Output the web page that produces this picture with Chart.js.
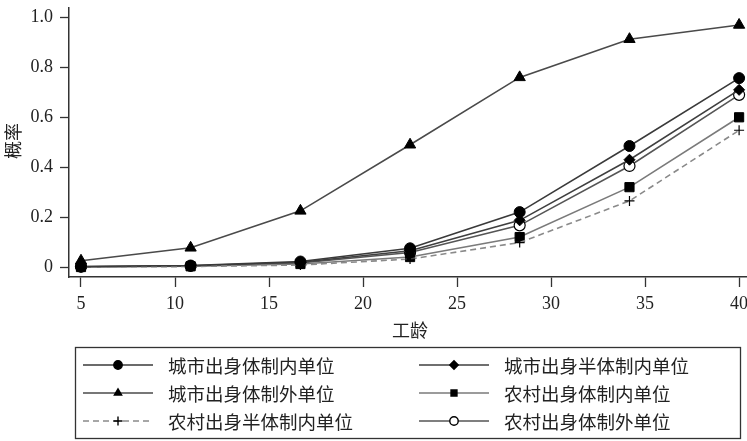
<!DOCTYPE html>
<html>
<head>
<meta charset="utf-8">
<script src="https://cdn.jsdelivr.net/npm/chart.js@4/dist/chart.umd.min.js"></script>
<style>
  html, body { margin: 0; padding: 0; background: #fff; }
  #wrap { width: 747px; height: 441px; }
</style>
</head>
<body>
<div id="wrap"><canvas id="c" width="747" height="441"></canvas></div>
<script>
// 工龄 at which the probabilities were plotted
const workYears = [5, 10.83, 16.67, 22.5, 28.33, 34.17, 40];

const urbanInside = [0.002, 0.006, 0.022, 0.075, 0.22, 0.485, 0.757];
const urbanOutside = [0.025, 0.077, 0.225, 0.49, 0.76, 0.913, 0.97];
const ruralHalf = [0, 0.002, 0.008, 0.032, 0.098, 0.265, 0.548];
const urbanHalf = [0.001, 0.005, 0.019, 0.065, 0.187, 0.43, 0.71];
const ruralInside = [0, 0.003, 0.012, 0.04, 0.12, 0.32, 0.60];
const ruralOutside = [0.001, 0.004, 0.016, 0.058, 0.167, 0.405, 0.69];

const xTicks = [5, 10, 15, 20, 25, 30, 35, 40];
const yTicks = [0, 0.2, 0.4, 0.6, 0.8, 1.0];

const serif = "'Liberation Serif', 'DejaVu Serif', serif";
const cjk = "'Noto Sans CJK SC', sans-serif";

function series(label, values, style, lineColor, opts) {
	return Object.assign({
		label: label,
		data: values.map((v, i) => ({ x: workYears[i], y: v })),
		borderColor: lineColor,
		borderWidth: 1.6,
		pointStyle: style,
		pointRadius: 5.5,
		pointBackgroundColor: '#000',
		pointBorderColor: '#000',
		pointBorderWidth: 1,
		tension: 0,
		clip: false
	}, opts || {});
}

const datasets = [
	series('城市出身体制内单位', urbanInside, 'circle', '#3a3a3a'),
	series('城市出身体制外单位', urbanOutside, 'triangle', '#4a4a4a', { pointRadius: 6.5 }),
	series('农村出身半体制内单位', ruralHalf, 'cross', '#8a8a8a', { borderDash: [6, 4], pointBorderWidth: 1.2, pointRadius: 5 }),
	series('城市出身半体制内单位', urbanHalf, 'rectRot', '#3f3f3f', { pointRadius: 5.5 }),
	series('农村出身体制内单位', ruralInside, 'rect', '#7a7a7a', { pointRadius: 6.5 }),
	series('农村出身体制外单位', ruralOutside, 'circle', '#555555', { pointBackgroundColor: '#fff', pointBorderWidth: 1.2 })
];

// legend slots: [dataset index, x of line start, row]
const legendSlots = [
	[0, 83, 0], [1, 83, 1], [2, 83, 2],
	[3, 419, 0], [4, 419, 1], [5, 419, 2]
];

// the x axis runs right up to the canvas edge, as in the original
const stretchX = {
	id: 'stretchX',
	afterLayout(chart) {
		const x = chart.scales.x;
		const area = chart.chartArea;
		x.right = chart.width;
		x.width = x.right - x.left;
		area.right = chart.width;
		area.width = area.right - area.left;
		x.configure();
	}
};

const extras = {
	id: 'extras',
	afterDraw(chart) {
		const ctx = chart.ctx;
		ctx.save();
		// axis titles
		ctx.fillStyle = '#222';
		ctx.font = '18px ' + cjk;
		ctx.textAlign = 'center';
		ctx.textBaseline = 'middle';
		ctx.fillText('工龄', 410, 330);
		ctx.save();
		ctx.translate(13, 141);
		ctx.rotate(-Math.PI / 2);
		ctx.fillText('概率', 0, 0);
		ctx.restore();

		// legend box
		ctx.strokeStyle = '#333';
		ctx.lineWidth = 1.3;
		ctx.strokeRect(75.5, 347.5, 665, 91);
		const rows = [365, 393, 421];
		ctx.font = '18.5px ' + cjk;
		ctx.textAlign = 'left';
		legendSlots.forEach(([di, x0, r]) => {
			const ds = chart.data.datasets[di];
			const y = rows[r];
			ctx.strokeStyle = ds.borderColor;
			ctx.lineWidth = 1.4;
			ctx.setLineDash(ds.borderDash || []);
			ctx.beginPath();
			ctx.moveTo(x0, y);
			ctx.lineTo(x0 + 70, y);
			ctx.stroke();
			ctx.setLineDash([]);
			ctx.fillStyle = ds.pointBackgroundColor;
			ctx.strokeStyle = '#000';
			Chart.helpers.drawPoint(ctx, {
				pointStyle: ds.pointStyle,
				radius: ds.pointStyle === 'cross' ? 4.5 : 4.2,
				rotation: 0,
				borderWidth: 1
			}, x0 + 35, y);
			ctx.fillStyle = '#222';
			ctx.fillText(ds.label, x0 + 85, y + 1);
		});
		ctx.restore();
	}
};

new Chart(document.getElementById('c'), {
	type: 'line',
	data: { datasets: datasets },
	options: {
		responsive: false,
		animation: false,
		layout: { padding: { top: 6, left: 0, right: 0, bottom: 0 } },
		plugins: { legend: { display: false }, tooltip: { enabled: false } },
		scales: {
			x: {
				type: 'linear',
				min: 4.362,
				max: 40.42,
				afterBuildTicks: (s) => { s.ticks = xTicks.map(v => ({ value: v })); },
				afterFit: (s) => { s.height = 164; s.paddingLeft = 0; s.paddingRight = 0; },
				border: { color: '#333', width: 1.5 },
				grid: { drawOnChartArea: false, tickLength: 10, tickColor: '#333', tickWidth: 1.3 },
				ticks: { color: '#222', padding: 6, maxRotation: 0, font: { family: serif, size: 18 } }
			},
			y: {
				min: -0.04,
				max: 1.04,
				afterBuildTicks: (s) => { s.ticks = yTicks.map(v => ({ value: v })); },
				afterFit: (s) => { s.width = 69; s.paddingTop = 0; s.paddingBottom = 0; },
				border: { color: '#333', width: 1.5 },
				grid: { drawOnChartArea: false, tickLength: 9, tickColor: '#333', tickWidth: 1.3 },
				ticks: {
					color: '#222',
					padding: 7,
					font: { family: serif, size: 18 },
					callback: (v) => v === 0 ? '0' : v.toFixed(1)
				}
			}
		}
	},
	plugins: [stretchX, extras]
});
</script>
</body>
</html>
